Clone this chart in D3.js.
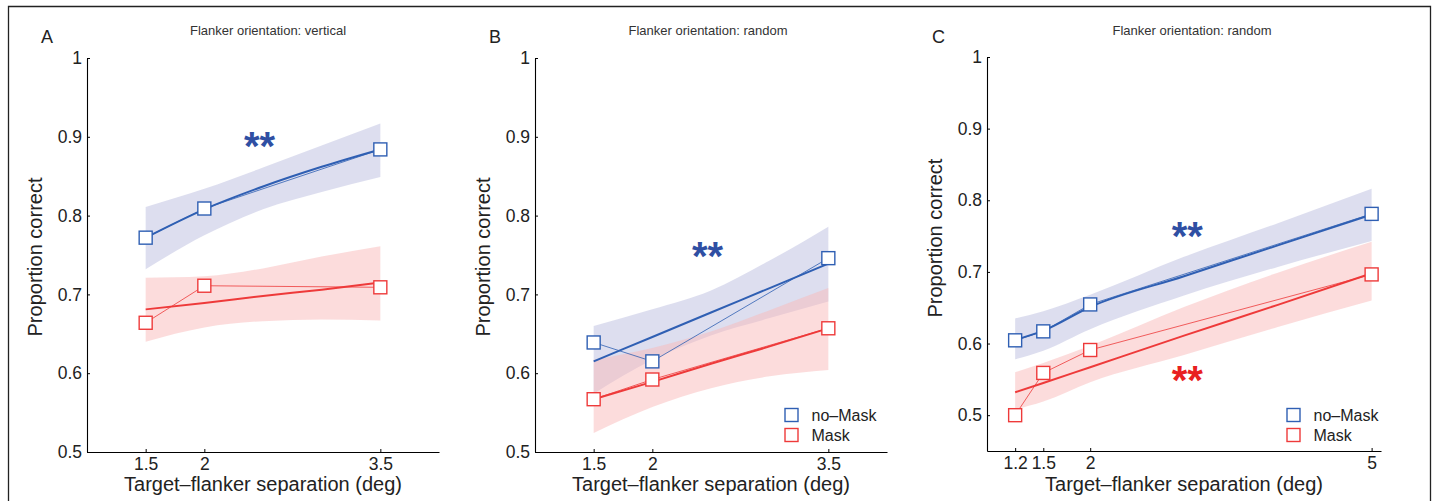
<!DOCTYPE html>
<html>
<head>
<meta charset="utf-8">
<script src="https://cdn.jsdelivr.net/npm/d3@7"></script>
<style>
  body { margin: 0; background: #fff; }
  text { font-family: "Liberation Sans", Arial, Helvetica, sans-serif; }
</style>
</head>
<body>
<svg id="fig" width="1434" height="501"></svg>
<script>
// ---- data ----
const sepAB = [1.5, 2, 3.5];
const sepC = [1.2, 1.5, 2, 5];

// panel A: flanker orientation vertical
const noMaskA = [0.772, 0.809, 0.884];
const maskA = [0.664, 0.711, 0.709];
const fitXA = [1.5, 2, 2.5, 3, 3.5];
const fitNoMaskA = [0.772, 0.808, 0.837, 0.862, 0.884];
const loNoMaskA = [0.732, 0.775, 0.808, 0.830, 0.849];
const hiNoMaskA = [0.811, 0.834, 0.861, 0.889, 0.917];
const fitMaskA = [0.681, 0.689, 0.698, 0.706, 0.715];
const loMaskA = [0.640, 0.658, 0.666, 0.668, 0.667];
const hiMaskA = [0.721, 0.723, 0.733, 0.748, 0.761];

// panel B: flanker orientation random
const noMaskB = [0.639, 0.615, 0.746];
const maskB = [0.567, 0.592, 0.657];
const fitXB = [1.5, 2, 2.5, 3, 3.5];
const fitNoMaskB = [0.615, 0.646, 0.677, 0.708, 0.739];
const loNoMaskB = [0.574, 0.617, 0.648, 0.670, 0.691];
const hiNoMaskB = [0.660, 0.681, 0.705, 0.743, 0.786];
const fitMaskB = [0.567, 0.589, 0.612, 0.634, 0.657];
const loMaskB = [0.524, 0.557, 0.581, 0.596, 0.604];
const hiMaskB = [0.617, 0.632, 0.653, 0.680, 0.708];

// panel C: flanker orientation random, more separations
const noMaskC = [0.6045, 0.617, 0.6546, 0.781];
const maskC = [0.500, 0.559, 0.591, 0.6965];
const fitXC = [1.2, 1.5, 2, 3, 4, 5];
const fitNoMaskC = [0.605, 0.618, 0.651, 0.694, 0.737, 0.780];
const loNoMaskC = [0.578, 0.590, 0.620, 0.667, 0.707, 0.743];
const hiNoMaskC = [0.635, 0.645, 0.668, 0.721, 0.768, 0.816];
const fitMaskC = [0.532, 0.545, 0.567, 0.611, 0.654, 0.698];
const loMaskC = [0.508, 0.519, 0.546, 0.584, 0.623, 0.660];
const hiMaskC = [0.560, 0.573, 0.597, 0.651, 0.699, 0.742];

const yTicks = [0.5, 0.6, 0.7, 0.8, 0.9, 1];
const legendNames = ["no\u2013Mask", "Mask"];

// ---- colours ----
const blue = "#2f5fb3";
const red = "#ee3a3a";
const blueBand = "#bcbde0";
const redBand = "#f9b9b9";

const svg = d3.select("#fig");

// frame around the figure (bottom edge is cut off in the original)
svg.append("path")
  .attr("d", "M8.5,510 L8.5,6.5 L1430.5,6.5 L1430.5,510")
  .attr("fill", "none")
  .attr("stroke", "#222")
  .attr("stroke-width", 1.3);

function drawPanel(p) {
  const x = d3.scaleLinear().domain(p.xDomain).range([p.left, p.right]);
  const y = d3.scaleLinear().domain(p.yDomain).range([p.bottom, p.top]);
  const g = svg.append("g");

  // confidence bands
  const area = d3.area()
    .x(d => x(d.x)).y0(d => y(d.lo)).y1(d => y(d.hi))
    .curve(d3.curveMonotoneX);
  const bandData = (lo, hi) => p.fitX.map((v, i) => ({ x: v, lo: lo[i], hi: hi[i] }));
  g.append("path").datum(bandData(p.loNo, p.hiNo))
    .attr("d", area).attr("fill", blueBand).attr("fill-opacity", 0.5);
  g.append("path").datum(bandData(p.loMask, p.hiMask))
    .attr("d", area).attr("fill", redBand).attr("fill-opacity", 0.5);

  // fitted lines
  const fitLine = d3.line().x(d => x(d[0])).y(d => y(d[1])).curve(d3.curveMonotoneX);
  g.append("path").datum(p.fitX.map((v, i) => [v, p.fitNo[i]]))
    .attr("d", fitLine).attr("fill", "none").attr("stroke", blue).attr("stroke-width", 2);
  g.append("path").datum(p.fitX.map((v, i) => [v, p.fitMask[i]]))
    .attr("d", fitLine).attr("fill", "none").attr("stroke", red).attr("stroke-width", 2);

  // thin lines joining the data points
  const dataLine = d3.line().x(d => x(d[0])).y(d => y(d[1]));
  const series = [
    { vals: p.noMask, color: blue },
    { vals: p.mask, color: red }
  ];
  series.forEach(s => {
    const pts = p.sep.map((v, i) => [v, s.vals[i]]);
    g.append("path").datum(pts)
      .attr("d", dataLine).attr("fill", "none")
      .attr("stroke", s.color).attr("stroke-width", 0.8);
    g.selectAll(null).data(pts).enter().append("rect")
      .attr("x", d => x(d[0]) - 6.5).attr("y", d => y(d[1]) - 6.5)
      .attr("width", 13).attr("height", 13)
      .attr("fill", "#fff").attr("stroke", s.color).attr("stroke-width", 1.4);
  });

  // axes
  const yAxis = d3.axisLeft(y).tickValues(yTicks)
    .tickSizeInner(-3).tickSizeOuter(0).tickPadding(5)
    .tickFormat(d => d === 1 ? "1" : d.toFixed(1));
  const xAxis = d3.axisBottom(x).tickValues(p.sep)
    .tickSizeInner(-3).tickSizeOuter(0).tickPadding(6)
    .tickFormat(d => String(d));
  const ya = g.append("g").attr("transform", `translate(${p.left},0)`).call(yAxis);
  const xa = g.append("g").attr("transform", `translate(0,${p.bottom})`).call(xAxis);
  [ya, xa].forEach(a => {
    a.select(".domain").attr("stroke", "#000").attr("stroke-width", 1.1);
    a.selectAll(".tick line").attr("stroke", "#000");
    a.selectAll(".tick text").attr("font-size", 17.5).attr("fill", "#222")
      .attr("font-family", "'Liberation Sans', Arial, sans-serif");
  });

  // axis titles
  g.append("text")
    .attr("x", (p.left + p.right) / 2).attr("y", 491)
    .attr("text-anchor", "middle").attr("font-size", 20).attr("fill", "#222")
    .text("Target\u2013flanker separation (deg)");
  g.append("text")
    .attr("transform", `translate(${p.left - 45},${(p.top + y(0.5)) / 2 + 2}) rotate(-90)`)
    .attr("text-anchor", "middle").attr("font-size", 20).attr("fill", "#222")
    .text("Proportion correct");

  // panel title and letter
  g.append("text")
    .attr("x", p.titleX).attr("y", 35)
    .attr("text-anchor", "middle").attr("font-size", 13).attr("fill", "#333")
    .text(p.title);
  g.append("text")
    .attr("x", p.letterX).attr("y", 43)
    .attr("font-size", 18).attr("fill", "#222")
    .text(p.letter);

  // significance stars
  p.stars.forEach(s => {
    g.append("text")
      .attr("x", x(s.x)).attr("y", y(s.y) + 20)
      .attr("text-anchor", "middle").attr("font-size", 40).attr("font-weight", "bold")
      .attr("fill", s.color)
      .text("**");
  });

  // legend
  if (p.legendX) {
    [blue, red].forEach((c, i) => {
      g.append("rect")
        .attr("x", p.legendX - 6.5).attr("y", 408.5 + i * 20)
        .attr("width", 13).attr("height", 13)
        .attr("fill", "#fff").attr("stroke", c).attr("stroke-width", 1.4);
      g.append("text")
        .attr("x", p.legendX + 20).attr("y", 421 + i * 20)
        .attr("font-size", 16).attr("fill", "#222")
        .text(legendNames[i]);
    });
  }
}

drawPanel({
  left: 87, right: 439, top: 58, bottom: 452,
  xDomain: [1, 4], yDomain: [0.5, 1],
  sep: sepAB, noMask: noMaskA, mask: maskA, fitX: fitXA,
  fitNo: fitNoMaskA, loNo: loNoMaskA, hiNo: hiNoMaskA,
  fitMask: fitMaskA, loMask: loMaskA, hiMask: hiMaskA,
  title: "Flanker orientation: vertical", titleX: 268,
  letter: "A", letterX: 41,
  stars: [{ x: 2.47, y: 0.896, color: "#2f4fa3" }],
  legendX: null
});

drawPanel({
  left: 535, right: 887, top: 58, bottom: 452,
  xDomain: [1, 4], yDomain: [0.5, 1],
  sep: sepAB, noMask: noMaskB, mask: maskB, fitX: fitXB,
  fitNo: fitNoMaskB, loNo: loNoMaskB, hiNo: hiNoMaskB,
  fitMask: fitMaskB, loMask: loMaskB, hiMask: hiMaskB,
  title: "Flanker orientation: random", titleX: 708,
  letter: "B", letterX: 489,
  stars: [{ x: 2.47, y: 0.756, color: "#2f4fa3" }],
  legendX: 791.5
});

drawPanel({
  left: 987, right: 1381, top: 57, bottom: 451,
  xDomain: [0.9, 5.1], yDomain: [0.45, 1],
  sep: sepC, noMask: noMaskC, mask: maskC, fitX: fitXC,
  fitNo: fitNoMaskC, loNo: loNoMaskC, hiNo: hiNoMaskC,
  fitMask: fitMaskC, loMask: loMaskC, hiMask: hiMaskC,
  title: "Flanker orientation: random", titleX: 1192,
  letter: "C", letterX: 932,
  stars: [
    { x: 3.035, y: 0.759, color: "#2f4fa3" },
    { x: 3.035, y: 0.558, color: "#e82020" }
  ],
  legendX: 1293.5
});
</script>
</body>
</html>
